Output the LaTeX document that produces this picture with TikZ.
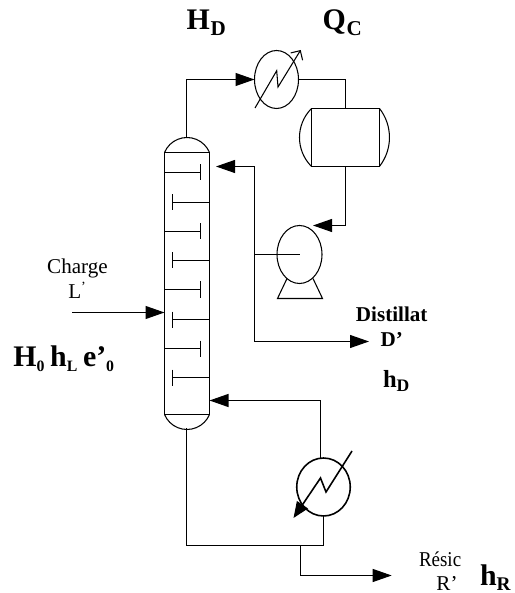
\documentclass[tikz,border=0pt]{standalone}
\usepackage{fontspec}
\setmainfont{Liberation Serif}
\usetikzlibrary{arrows.meta,shapes.geometric}
\newcommand{\subbold}[2]{\raisebox{-0.2em}{\fontsize{#1}{#1}\selectfont #2}}
\begin{document}
\begin{tikzpicture}[scale=0.2]
	\tikzstyle{every node}+=[inner sep=0pt,outer sep=0pt]
	\tikzstyle{pipe}=[black,line width=0.6pt,-{Triangle[length=3.8mm,width=2.6mm]}]
	\tikzstyle{line}=[black,line width=0.6pt]
	\tikzstyle{biglabel}=[anchor=base west,font=\bfseries\fontsize{17}{17}\selectfont]
	\tikzstyle{boldlabel}=[anchor=base,font=\bfseries\fontsize{12}{12}\selectfont]
	\tikzstyle{smalllabel}=[anchor=base,font=\fontsize{12}{12}\selectfont]
	\useasboundingbox (0,0) rectangle (51.4,-59.3);
	% column
	\node [draw,line,minimum width=0.9cm,minimum height=5.24cm] (column) at (18.7,-28.35) {};
	\draw [line] (column.north west) arc (157.3:22.7:2.44);
	\draw [line] (column.south west) arc (-157.3:-22.7:2.44);
	\coordinate (domet) at (18.65,-13.75);
	\coordinate (domeb) at (18.65,-42.85);
	\draw [line] (16.45,-17.25) -- (20.05,-17.25);
	\draw [line] (20.05,-16.45) -- (20.05,-18.05);
	\draw [line] (16.45,-23.15) -- (20.05,-23.15);
	\draw [line] (20.05,-22.35) -- (20.05,-23.95);
	\draw [line] (16.45,-28.95) -- (20.05,-28.95);
	\draw [line] (20.05,-28.15) -- (20.05,-29.75);
	\draw [line] (16.45,-34.85) -- (20.05,-34.85);
	\draw [line] (20.05,-34.05) -- (20.05,-35.65);
	\draw [line] (20.95,-20.25) -- (17.25,-20.25);
	\draw [line] (17.25,-19.45) -- (17.25,-21.05);
	\draw [line] (20.95,-26.05) -- (17.25,-26.05);
	\draw [line] (17.25,-25.25) -- (17.25,-26.85);
	\draw [line] (20.95,-31.95) -- (17.25,-31.95);
	\draw [line] (17.25,-31.15) -- (17.25,-32.75);
	\draw [line] (20.95,-37.75) -- (17.25,-37.75);
	\draw [line] (17.25,-36.95) -- (17.25,-38.55);
	% condenser and drum
	\node [draw,line,ellipse,minimum width=0.88cm,minimum height=1.16cm] (condenser) at (27.65,-7.95) {};
	\node [draw,line,minimum width=1.36cm,minimum height=1.16cm] (drum) at (34.55,-13.75) {};
	\draw [line] (drum.north west) arc (135:225:4.1);
	\draw [line] (drum.north east) arc (38:-38:4.7);
	\draw [line,-{Straight Barb[length=1.4mm,width=2.8mm]}] (25.5,-10.8) -- (27.67,-7.07) -- (27.8,-8.7) -- (30.07,-5);
	\draw [pipe] (domet) |- (condenser.west);
	\draw [line] (condenser.east) -| (drum.north);
	% pump
	\node [draw,line,ellipse,minimum width=0.9cm,minimum height=1.16cm] (pump) at (29.95,-25.45) {};
	\draw [line] (28.7,-27.85) -- (27.75,-29.85) -- (32.25,-29.85) -- (31.3,-27.85);
	\coordinate (pumpin) at (31.3,-22.55);
	\coordinate (shaft) at (25.45,-25.45);
	\coordinate (refluxin) at (21.6,-16.65);
	\coordinate (distin) at (36.9,-34.15);
	\draw [pipe] (drum.south) |- (pumpin);
	\draw [line] (pump.center) -- (shaft);
	\draw [pipe] (shaft) |- (refluxin);
	\draw [pipe] (shaft) |- (distin);
	% feed
	\coordinate (feedout) at (7.2,-31.25);
	\coordinate (feedin) at (16.45,-31.25);
	\draw [pipe] (feedout) -- (feedin);
	% reboiler
	\node [draw,line,line width=0.9pt,ellipse,minimum width=1.07cm,minimum height=1.16cm] (reboiler) at (32.35,-48.7) {};
	\draw [line,line width=0.9pt,-{Triangle[length=3.2mm,width=2.6mm]}] (35.2,-45.1) -- (32.6,-49.2) -- (32.05,-47.8) -- (29.35,-51.8);
	\coordinate (reboilert) at (32.05,-45.85);
	\coordinate (reboilerin) at (20.95,-40.05);
	\coordinate (bottom) at (18.65,-54.55);
	\coordinate (junction) at (30.05,-54.55);
	\coordinate (residuin) at (39.17,-57.55);
	\draw [pipe] (reboilert) |- (reboilerin);
	\draw [line] (reboiler.south) |- (bottom) -- (domeb);
	\draw [pipe] (junction) |- (residuin);
	% labels
	\node [biglabel] (hd) at (18.67,-2.95) {H\kern0.4pt\subbold{12}{D}};
	\node [biglabel] (qc) at (32.27,-2.95) {Q\kern0.4pt\subbold{12}{C}};
	\node [smalllabel] (charge) at (7.75,-27.4) {Charge};
	\node [smalllabel] (chargel) at (7.75,-29.9) {L\textsuperscript{’}};
	\node [biglabel] (enthalpy) at (1.33,-36.6) {H\subbold{9}{0}\kern-1pt{} h\subbold{9}{L}\kern-1pt{} e’\subbold{9}{0}};
	\node [boldlabel] (distillat) at (39.17,-32.17) {Distillat};
	\node [boldlabel] (dprime) at (39.17,-34.67) {D’};
	\node [biglabel,font=\bfseries\fontsize{14}{14}\selectfont] (hdist) at (38.3,-38.7) {h\subbold{10}{D}};
	\node [smalllabel,anchor=base west] (residu) at (41.9,-56.67) {\scalebox{0.9}[1]{Résic}};
	\node [smalllabel] (rprime) at (44.7,-59) {R’};
	\node [biglabel] (hr) at (48,-58.5) {h\subbold{11}{R}};
\end{tikzpicture}
\end{document}
